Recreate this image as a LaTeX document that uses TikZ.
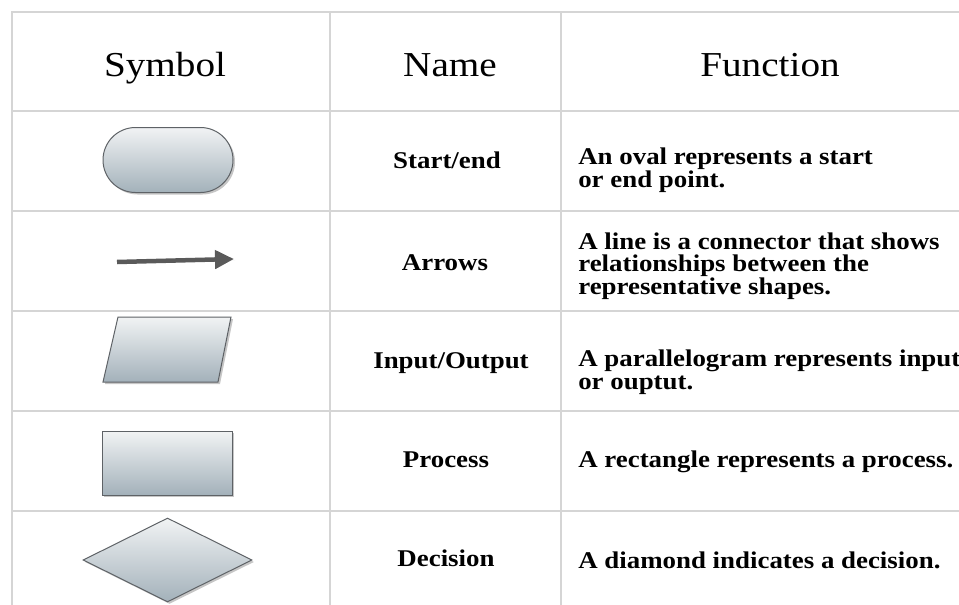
\documentclass[tikz,border=0pt]{standalone}
\usepackage{fontspec}
\setmainfont{Liberation Serif}[FakeStretch=1.12]
\usetikzlibrary{arrows.meta,positioning,shapes.geometric,shapes.misc,shadows}
\definecolor{gridgray}{HTML}{D5D5D5}
\definecolor{shapetop}{HTML}{F1F3F4}
\definecolor{shapebot}{HTML}{A3B1BA}
\definecolor{edgegray}{HTML}{5E6266}
\definecolor{arrowgray}{HTML}{5A5A5A}
\tikzset{
    every node/.style={font=\bfseries\fontsize{24}{22.5}\selectfont},
    head node/.style={font=\fontsize{35}{40}\selectfont, anchor=base},
    symbol node/.style={draw=edgegray, line width=1pt, top color=shapetop,
        bottom color=shapebot, inner sep=0pt,
        drop shadow={shadow xshift=2pt, shadow yshift=-2pt, opacity=0.45}},
    text node/.style={anchor=west, align=left, inner sep=0pt}
}

\begin{document}
\begin{tikzpicture}[
            x = 1pt, y = -1pt, % one unit per pixel, y going down
            semithick
        ]
        \useasboundingbox (0,0) rectangle (959,605);

        % table grid
        \draw[gridgray, line width=2pt] (12,605) -- (12,12) -- (959,12);
        \foreach \y in {111,211,311,411,511}
            \draw[gridgray, line width=1.5pt] (12,\y) -- (959,\y);
        \foreach \x in {330,561}
            \draw[gridgray, line width=1.5pt] (\x,12) -- (\x,605);

        % header
        \node[head node] (hsym) at (165,76) {Symbol};
        \node[head node] (hname) at (450,76) {Name};
        \node[head node] (hfunc) at (770,76) {Function};

        % symbols
        \node[symbol node, rounded rectangle, minimum width=130pt, minimum height=65pt] (oval) at (168,160) {};
        \coordinate (tail) at (117,262);
        \coordinate (tip) at (234,259);
        \draw[arrowgray, line width=4.5pt, -{Triangle[length=19pt, width=18pt]},
            drop shadow={shadow xshift=1pt, shadow yshift=-1pt, opacity=0.3}] (tail) -- (tip);
        \coordinate (io-tl) at (118,317);
        \coordinate (io-tr) at (231,317);
        \coordinate (io-br) at (218,382);
        \coordinate (io-bl) at (103,382);
        \path[symbol node] (io-tl) -- (io-tr) -- (io-br) -- (io-bl) -- cycle;
        \node[symbol node, rectangle, minimum width=130pt, minimum height=64pt] (proc) at (167,463) {};
        \node[symbol node, diamond, minimum width=169pt, minimum height=84pt] (dec) at (167.5,560) {};

        % names
        \node (nstart) at (447,160) {Start/end};
        \node (narrow) at (445,263) {Arrows};
        \node (nio) at (451,363) {Input/Output};
        \node (nproc) at (446,460) {Process};
        \node (ndec) at (446,558) {Decision};

        % functions
        \node[text node] (fstart) at (578,170) {An oval represents a start\\or end point.};
        \node[text node] (farrow) at (578,266) {A line is a connector that shows\\relationships between the\\representative shapes.};
        \node[text node] (fio) at (578,372) {A parallelogram represents input\\or ouptut.};
        \node[text node] (fproc) at (578,462) {A rectangle represents a process.};
        \node[text node] (fdec) at (578,560) {A diamond indicates a decision.};

  \end{tikzpicture}
\end{document}
